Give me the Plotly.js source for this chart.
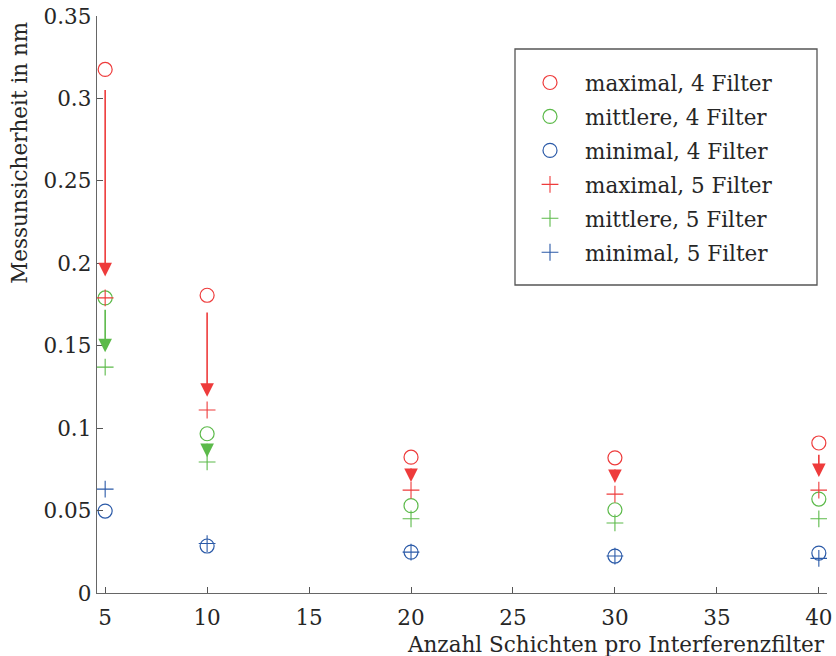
<!DOCTYPE html>
<html>
<head>
<meta charset="utf-8">
<script src="https://cdn.plot.ly/plotly-3.0.1.min.js"></script>
<style>html,body{margin:0;padding:0;background:#fff;}#chart{width:836px;height:656px;}</style>
</head>
<body>
<div id="chart"></div>
<script>
// Data
const schichten = [5, 10, 20, 30, 40];
const max4 = [0.3176, 0.1806, 0.0824, 0.0820, 0.0910];
const mid4 = [0.1790, 0.0966, 0.0530, 0.0505, 0.0570];
const min4 = [0.0497, 0.0285, 0.0248, 0.0224, 0.0242];
const max5 = [0.1790, 0.1110, 0.0624, 0.0600, 0.0624];
const mid5 = [0.1370, 0.0795, 0.0450, 0.0425, 0.0450];
const min5 = [0.0630, 0.0300, 0.0248, 0.0224, 0.0210];

// Arrows (tail -> tip)
const redArrowX = [5, 10, 20, 30, 40];
const redArrowFrom = [0.306, 0.171, 0.0764, 0.0758, 0.0848];
const redArrowTo = [0.192, 0.119, 0.0673, 0.0667, 0.0703];
const greenArrowX = [5, 10];
const greenArrowFrom = [0.1727, 0.0915];
const greenArrowTo = [0.146, 0.0824];

const xTicks = [5, 10, 15, 20, 25, 30, 35, 40];
const yTicks = [0, 0.05, 0.1, 0.15, 0.2, 0.25, 0.3, 0.35];
const yTickText = ['0', '0.05', '0.1', '0.15', '0.2', '0.25', '0.3', '0.35'];

const RED = '#ee3b3b', GREEN = '#5cba4a', BLUE = '#2b5aa8';
const FONT = 'DejaVu Serif, Liberation Serif, serif';
const TXT = '#262626';
const FS = 21.5;

function circ(name, y, c) {
  return {x: schichten, y: y, name: name, type: 'scatter', mode: 'markers', legendgroup: name,
    marker: {symbol: 'circle-open', size: 14, color: c, line: {width: 1.2, color: c}}};
}
function plus(name, y, c) {
  return {x: schichten, y: y, name: name, type: 'scatter', mode: 'markers', legendgroup: name,
    marker: {symbol: 'cross-thin-open', size: 12, color: c, line: {width: 1.1, color: c}}};
}
const traces = [
  circ('maximal, 4 Filter', max4, RED),
  circ('mittlere, 4 Filter', mid4, GREEN),
  circ('minimal, 4 Filter', min4, BLUE),
  plus('maximal, 5 Filter', max5, RED),
  plus('mittlere, 5 Filter', mid5, GREEN),
  plus('minimal, 5 Filter', min5, BLUE)
];

const annotations = [];
function arrow(x, from, to, c) {
  annotations.push({x: x, y: to, ax: x, ay: from, xref: 'x', yref: 'y', axref: 'x', ayref: 'y',
    showarrow: true, arrowhead: 2, arrowsize: 1.7, arrowwidth: 1.6, arrowcolor: c, text: ''});
}
redArrowX.forEach((x, i) => arrow(x, redArrowFrom[i], redArrowTo[i], RED));
greenArrowX.forEach((x, i) => arrow(x, greenArrowFrom[i], greenArrowTo[i], GREEN));

annotations.push({text: 'Anzahl Schichten pro Interferenzfilter', xref: 'paper', yref: 'paper',
  x: 1, y: 0, xanchor: 'right', yanchor: 'middle', yshift: -51, showarrow: false,
  font: {family: FONT, size: FS, color: TXT}});
annotations.push({text: 'Messunsicherheit in nm', xref: 'paper', yref: 'y',
  x: 0, y: 0.267, xanchor: 'center', yanchor: 'middle', xshift: -77, textangle: -90, showarrow: false,
  font: {family: FONT, size: FS, color: TXT}});

// legend frame (paper coordinates of the plot area 97..827 x 16..593)
const shapes = [{type: 'rect', xref: 'paper', yref: 'paper',
  x0: (515 - 97) / 730, x1: (817 - 97) / 730, y0: (593 - 285) / 577, y1: (593 - 49) / 577,
  line: {color: '#555', width: 1.3}, fillcolor: '#fff', layer: 'below'}];

const layout = {
  width: 836, height: 656,
  margin: {l: 97, r: 9, t: 16, b: 63},
  paper_bgcolor: '#fff', plot_bgcolor: '#fff',
  font: {family: FONT, size: FS, color: TXT},
  showlegend: true,
  legend: {x: (515 - 97) / 730, y: (593 - 62) / 577, xanchor: 'left', yanchor: 'top', borderwidth: 0,
    bgcolor: 'rgba(0,0,0,0)', tracegroupgap: 3, itemwidth: 60, font: {family: FONT, size: FS, color: TXT}},
  xaxis: {range: [4.6, 40.4], tickvals: xTicks, ticks: 'inside', ticklen: 6, tickcolor: '#555',
    showline: true, linecolor: '#666', linewidth: 1.3, showgrid: false, zeroline: false,
    ticklabelstandoff: 5, tickfont: {family: FONT, size: FS, color: TXT}},
  yaxis: {range: [0, 0.35], tickvals: yTicks, ticktext: yTickText, ticks: 'inside', ticklen: 6, tickcolor: '#555',
    showline: true, linecolor: '#666', linewidth: 1.3, showgrid: false, zeroline: false,
    tickfont: {family: FONT, size: FS, color: TXT}},
  shapes: shapes,
  annotations: annotations
};

Plotly.newPlot('chart', traces, layout, {displayModeBar: false, staticPlot: true});
</script>
</body>
</html>
